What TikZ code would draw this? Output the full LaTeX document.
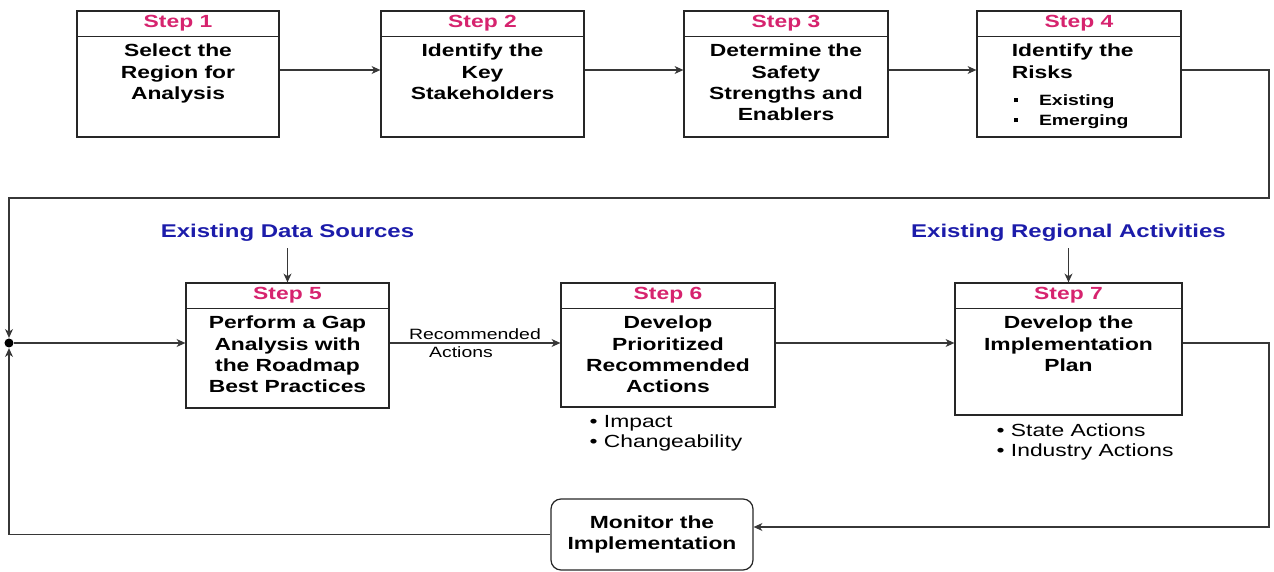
\documentclass[tikz,border=0pt]{standalone}
\usepackage{fontspec}
\setmainfont{Liberation Sans}[FakeStretch=1.3]
\usetikzlibrary{arrows.meta,positioning}
\definecolor{stepred}{RGB}{214,35,110}
\definecolor{srcblue}{RGB}{28,28,170}
\definecolor{linegray}{RGB}{55,55,55}

\begin{document}
\begin{tikzpicture}[line width=0.7pt,>={Stealth[length=5pt,width=4.5pt,inset=1.5pt]},
    box/.style={draw=black!85},
    head/.style={anchor=north,minimum height=0.5cm,inner sep=0pt,text=stepred,font=\bfseries},
    body/.style={anchor=north,align=center,inner ysep=4pt,font=\bfseries},
    src/.style={text=srcblue,font=\fontsize{10.5}{12}\selectfont\bfseries},
    note/.style={anchor=north west,align=left,inner sep=0pt,font=\fontsize{10}{11.5}\selectfont},
    small/.style={inner sep=1.5pt,font=\fontsize{8.5}{10}\selectfont},
    link/.style={draw=linegray,->}]
    \useasboundingbox (0,0) rectangle (25.48,-11.44);

    \node[box,minimum width=4.04cm,minimum height=2.52cm] (b1) at (3.56,-1.48) {};
    \node[head] (h1) at (b1.north) {Step 1};
    \draw[box] (b1.west |- h1.south) -- (b1.east |- h1.south);
    \node[body] (t1) at (h1.south) {Select the\\Region for\\Analysis};

    \node[box,minimum width=4.06cm,minimum height=2.52cm] (b2) at (9.65,-1.48) {};
    \node[head] (h2) at (b2.north) {Step 2};
    \draw[box] (b2.west |- h2.south) -- (b2.east |- h2.south);
    \node[body] (t2) at (h2.south) {Identify the\\Key\\Stakeholders};

    \node[box,minimum width=4.08cm,minimum height=2.52cm] (b3) at (15.72,-1.48) {};
    \node[head] (h3) at (b3.north) {Step 3};
    \draw[box] (b3.west |- h3.south) -- (b3.east |- h3.south);
    \node[body] (t3) at (h3.south) {Determine the\\Safety\\Strengths and\\Enablers};

    \node[box,minimum width=4.08cm,minimum height=2.52cm] (b4) at (21.58,-1.48) {};
    \node[head] (h4) at (b4.north) {Step 4};
    \draw[box] (b4.west |- h4.south) -- (b4.east |- h4.south);
    \node[body,anchor=north west,align=left] (t4) at ([xshift=0.58cm]b4.west |- h4.south) {Identify the\\Risks};
    \node[note,font=\fontsize{8.5}{11.4}\selectfont\bfseries] (l4) at ([xshift=0.74cm,yshift=-0.16cm]b4.west |- t4.south)
        {\makebox[0.5cm][l]{\rule[0.2em]{0.08cm}{0.08cm}}Existing\\\makebox[0.5cm][l]{\rule[0.2em]{0.08cm}{0.08cm}}Emerging};

    \node[box,minimum width=4.06cm,minimum height=2.5cm] (b5) at (5.75,-6.91) {};
    \node[head] (h5) at (b5.north) {Step 5};
    \draw[box] (b5.west |- h5.south) -- (b5.east |- h5.south);
    \node[body] (t5) at (h5.south) {Perform a Gap\\Analysis with\\the Roadmap\\Best Practices};

    \node[box,minimum width=4.28cm,minimum height=2.48cm] (b6) at (13.36,-6.90) {};
    \node[head] (h6) at (b6.north) {Step 6};
    \draw[box] (b6.west |- h6.south) -- (b6.east |- h6.south);
    \node[body] (t6) at (h6.south) {Develop\\Prioritized\\Recommended\\Actions};

    \node[box,minimum width=4.54cm,minimum height=2.64cm] (b7) at (21.37,-6.98) {};
    \node[head] (h7) at (b7.north) {Step 7};
    \draw[box] (b7.west |- h7.south) -- (b7.east |- h7.south);
    \node[body] (t7) at (h7.south) {Develop the\\Implementation\\Plan};

    \node[src] (ds) at (5.75,-4.66) {Existing Data Sources};
    \node[src] (ra) at (21.37,-4.66) {Existing Regional Activities};
    \node[note] (n6) at (11.78,-8.30) {\textbullet\ Impact\\\textbullet\ Changeability};
    \node[note] (n7) at (19.92,-8.46) {\textbullet\ State Actions\\\textbullet\ Industry Actions};

    \node[box,rounded corners=0.2cm,minimum width=4.04cm,minimum height=1.42cm,align=center,font=\bfseries] (mon) at (13.04,-10.69) {Monitor the\\Implementation};
    \node[circle,fill=black,inner sep=0pt,minimum size=0.18cm] (jn) at (0.18,-6.86) {};

    \coordinate (r1) at (0,-1.40);
    \coordinate (r2) at (0,-6.86);
    \coordinate (ne) at (25.38,-3.96);
    \coordinate (nw) at (0.18,-3.96);
    \coordinate (se) at (25.38,-10.54);

    \draw[link] (b1.east |- r1) -- (b2.west |- r1);
    \draw[link] (b2.east |- r1) -- (b3.west |- r1);
    \draw[link] (b3.east |- r1) -- (b4.west |- r1);
    \draw[link] (b4.east |- r1) -| (ne) -- (nw) -- (jn);
    \draw[link] (mon) -| (jn);
    \draw[link] (jn) -- (b5.west |- r2);
    \draw[link] (b5.east |- r2) -- node[above,small]{Recommended} node[below,small,xshift=-0.28cm]{Actions} (b6.west |- r2);
    \draw[link] (b6.east |- r2) -- (b7.west |- r2);
    \draw[link] (b7.east |- r2) -| (se) -- (mon.east |- se);
    \draw[link] (ds) -- (h5.north);
    \draw[link] (ra) -- (h7.north);
\end{tikzpicture}
\end{document}
